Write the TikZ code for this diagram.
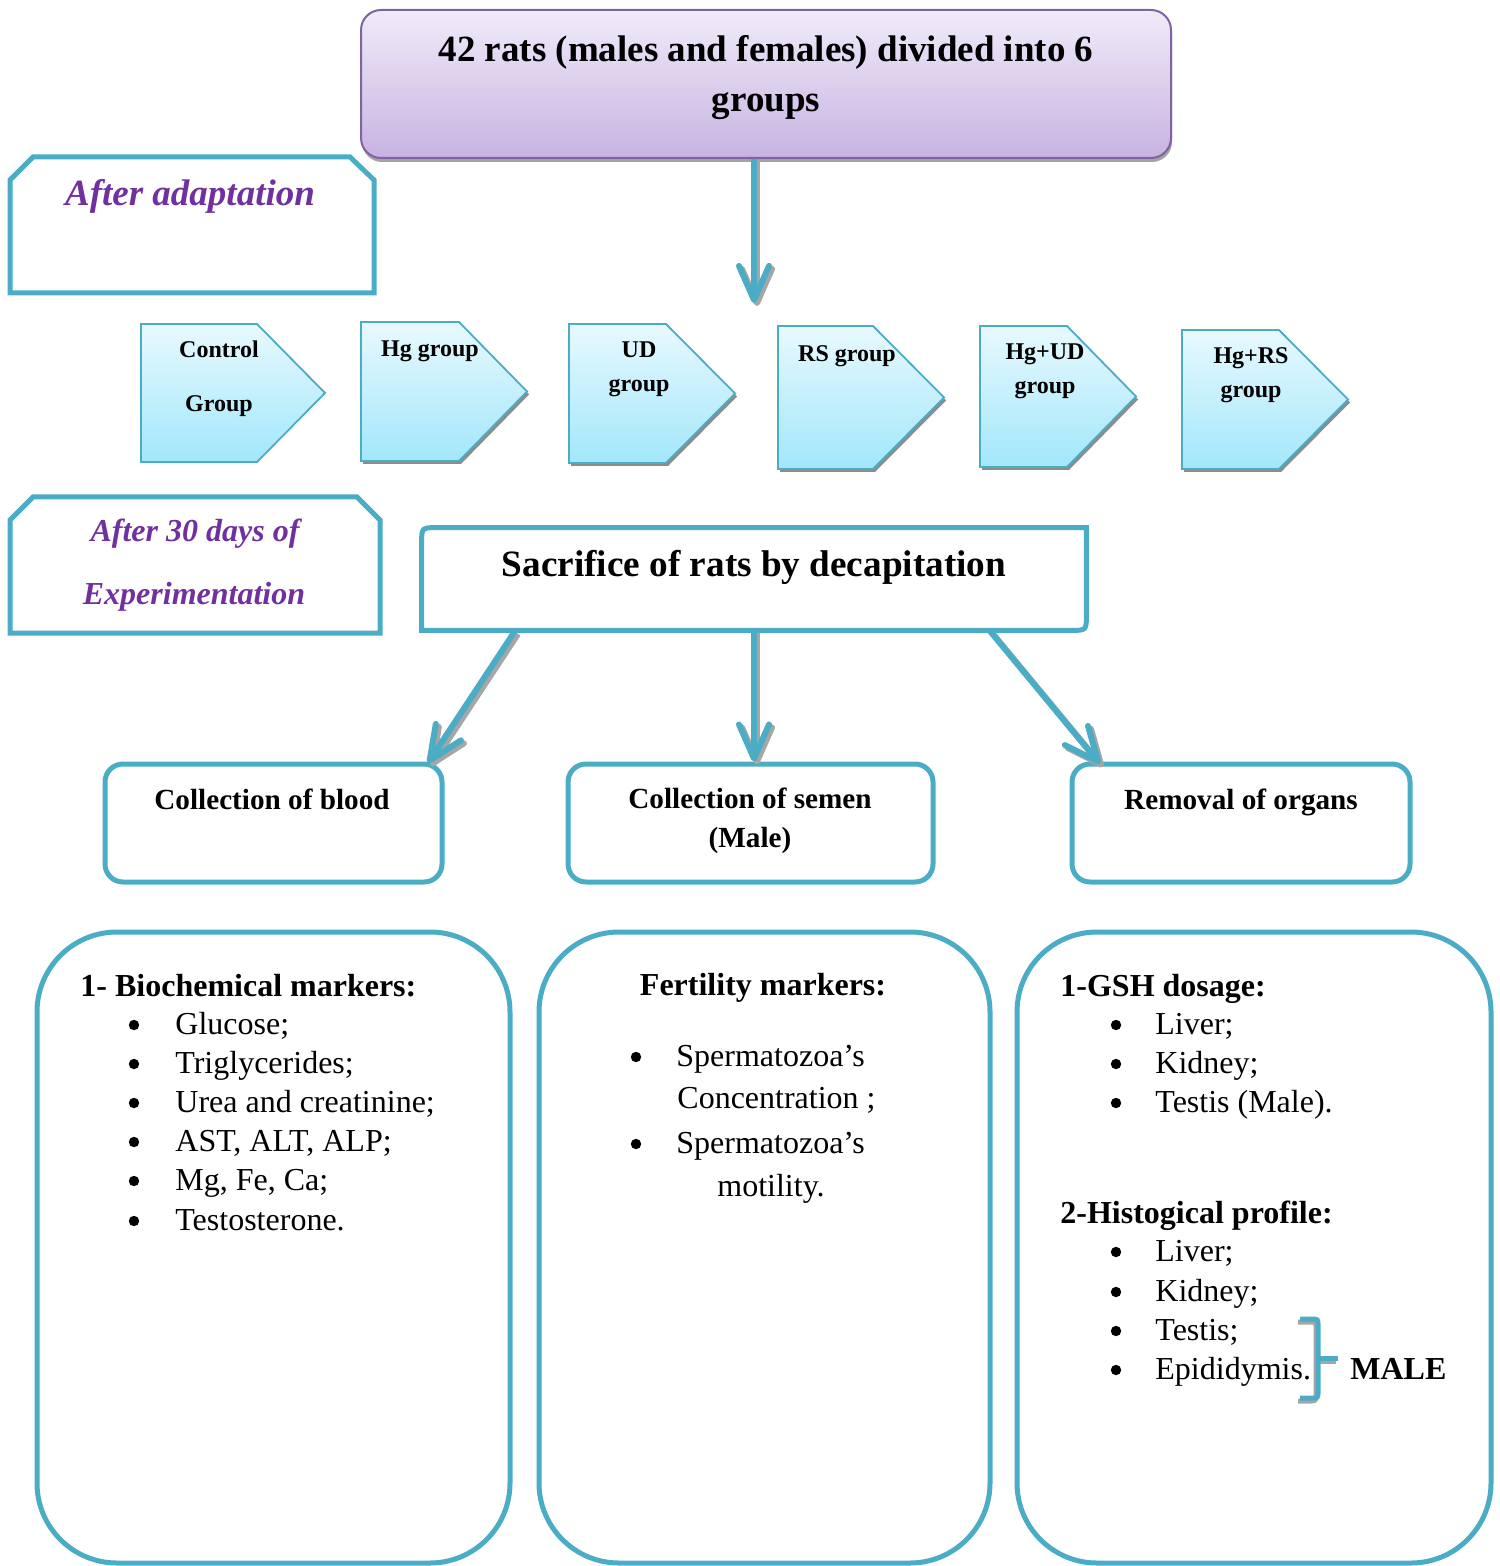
\documentclass[tikz,border=0pt]{standalone}
\usepackage{fontspec}
\setmainfont{Liberation Serif}
\usetikzlibrary{arrows.meta,shadows}
\definecolor{tealc}{HTML}{4BACC6}
\definecolor{purpt}{HTML}{7030A0}
\definecolor{purpb}{HTML}{8064A2}
\definecolor{purptop}{HTML}{F0EBF8}
\definecolor{purpbot}{HTML}{C7B3E2}
\definecolor{cyantop}{HTML}{E8F9FE}
\definecolor{cyanbot}{HTML}{A2E7FB}
\newcommand\pentshape[6][]{%
  \path[pent,#1] (#2,#3) -- (#6,#3) -- (#4,{(#3+#5)/2}) -- (#6,#5) -- (#2,#5) -- cycle;}
\begin{document}
\begin{tikzpicture}[x=0.5pt,y=-0.5pt,
  tealline/.style={draw=tealc,line width=2.5pt},
  arr/.style={draw=tealc,line width=3pt,-{Straight Barb[length=17pt,width=15pt,round]}},
  arrsh/.style={draw=black!35,line width=3pt,-{Straight Barb[length=17pt,width=15pt,round]},
     transform canvas={xshift=1.5pt,yshift=-1.5pt}},
  pent/.style={draw=tealc,line width=0.9pt,top color=cyantop,bottom color=cyanbot},
  psh/.style={drop shadow={shadow xshift=1pt,shadow yshift=-1.5pt,fill=black!45,opacity=1}},
  ptext/.style={font=\bfseries\fontsize{12}{14}\selectfont,inner sep=0pt,text height=8.5pt,text depth=2.4pt,yshift=-1pt},
  ital/.style={font=\bfseries\itshape\fontsize{16}{19}\selectfont,text=purpt,inner sep=0pt,text height=11.2pt,text depth=3.2pt,yshift=-1.5pt},
  box/.style={draw=tealc,line width=2.5pt,rounded corners=9pt,fill=white,inner sep=0pt},
  bigbox/.style={draw=tealc,line width=2.5pt,rounded corners=40pt,inner sep=0pt},
  ctext/.style={font=\bfseries\fontsize{14.6}{19.5}\selectfont,inner sep=0pt,text height=10.2pt,text depth=2.9pt,yshift=-1.5pt},
  body/.style={font=\fontsize{16}{19.5}\selectfont,anchor=west,inner sep=0pt,text height=11.2pt,text depth=3.2pt,yshift=-1.5pt},
  head/.style={body,font=\bfseries\fontsize{16}{19.5}\selectfont},
  bul/.style={circle,fill=black,inner sep=0pt,minimum size=5.2pt}
]
\useasboundingbox (0,0) rectangle (1499,1566);

% top box
\node[rectangle,rounded corners=10pt,draw=purpb,line width=1pt,top color=purptop,bottom color=purpbot,
  minimum width=405pt,minimum height=74pt,inner sep=0pt,
  drop shadow={shadow xshift=0.5pt,shadow yshift=-2pt,fill=black!40,opacity=0.9}] (top) at (766,84) {};
\node[font=\bfseries\fontsize{18.5}{25}\selectfont,align=center,inner sep=0pt] (toptext) at (766,78)
  {42 rats (males and females) divided into 6\\groups};

\coordinate (tarr) at (754,303);
\draw[arrsh] (tarr |- top.south) -- (tarr);
\draw[arr] (tarr |- top.south) -- (tarr);

% After adaptation
\draw[tealline] (10,180) -- (33,157) -- (350,157) -- (374,180) -- (374,293) -- (10,293) -- cycle;
\node[ital,font=\bfseries\itshape\fontsize{18.5}{22}\selectfont,text height=13pt,text depth=3.7pt] (adapt) at (190,193) {After adaptation};

% pentagons
\pentshape{141}{324}{325}{462}{257}
\pentshape[psh]{361}{322}{527}{461}{459}
\pentshape[psh]{569}{324}{735}{463}{666}
\pentshape[psh]{778}{326}{944}{469}{873}
\pentshape[psh]{980}{326}{1136}{467}{1067}
\pentshape[psh]{1182}{330}{1348}{469}{1279}
\node[ptext] (p1a) at (219,349) {Control};
\node[ptext] (p1b) at (219,403) {Group};
\node[ptext] (p2a) at (430,348) {Hg group};
\node[ptext] (p3a) at (639,349) {UD};
\node[ptext] (p3b) at (639,383) {group};
\node[ptext] (p4a) at (847,353) {RS group};
\node[ptext] (p5a) at (1045,351) {Hg+UD};
\node[ptext] (p5b) at (1045,385) {group};
\node[ptext] (p6a) at (1251,355) {Hg+RS};
\node[ptext] (p6b) at (1251,389) {group};

% After 30 days
\draw[tealline] (10,520) -- (33,497) -- (357,497) -- (380,520) -- (380,633) -- (10,633) -- cycle;
\node[ital] (d30a) at (195,530) {After 30 days of};
\node[ital] (d30b) at (194,593) {Experimentation};

% Sacrifice box
\node[minimum width=332pt,minimum height=51pt,inner sep=0pt] (sac) at (754,579) {};
\draw[tealline] (sac.south west) -- ([yshift=-8pt]sac.north west) .. controls (sac.north west) .. ([xshift=8pt]sac.north west)
  -- (sac.north east) -- ([yshift=8pt]sac.south east) .. controls (sac.south east) .. ([xshift=-8pt]sac.south east) -- cycle;
\node[font=\bfseries\fontsize{18.6}{22}\selectfont,inner sep=0pt,text height=13pt,text depth=3.7pt] (sactext) at (754,567)
  {Sacrifice of rats by decapitation};

% collection boxes
\node[box,minimum width=168.5pt,minimum height=59pt] (blood) at (273.5,823) {};
\node[box,minimum width=182.5pt,minimum height=59pt] (semen) at (750.5,823) {};
\node[box,minimum width=169pt,minimum height=59pt] (organs) at (1241,823) {};
\node[ctext] (bloodt) at (272,799) {Collection of blood};
\node[ctext] (sement) at (750,798) {Collection of semen};
\node[ctext] (sement2) at (750,837) {(Male)};
\node[ctext] (organt) at (1241,799) {Removal of organs};

% arrows from sacrifice
\coordinate (ls) at (515,631);
\coordinate (rs) at (990,631);
\coordinate (le) at (428,763);
\coordinate (re) at (1100,764);
\draw[arrsh] (ls) -- (le);
\draw[arrsh] (sac.south) -- (sac.south |- semen.north);
\draw[arrsh] (rs) -- (re);
\draw[arr] (ls) -- (le);
\draw[arr] (sac.south) -- (sac.south |- semen.north);
\draw[arr] (rs) -- (re);

% big boxes
\node[bigbox,minimum width=236.5pt,minimum height=315.5pt] (b1) at (273.5,1247.5) {};
\node[bigbox,minimum width=225.5pt,minimum height=315.5pt] (b2) at (764.5,1247.5) {};
\node[bigbox,minimum width=237pt,minimum height=315.5pt] (b3) at (1254,1247.5) {};

% left list
\node[head] (h1) at (80,985) {1- Biochemical markers:};
\foreach \t/\y [count=\i] in {Glucose;/1023, Triglycerides;/1062, Urea and creatinine;/1101, {AST, ALT, ALP;}/1140, {Mg, Fe, Ca;}/1179, Testosterone./1219}{
  \node[bul] (lb\i) at (134,\y+2) {};
  \node[body] (lt\i) at (175,\y) {\t};
}

% middle list
\node[head,anchor=center] (h2) at (763,984) {Fertility markers:};
\node[bul] (mb1) at (636,1057) {};
\node[body] (mt1) at (676,1055) {Spermatozoa’s};
\node[body] (mt2) at (677,1097) {Concentration ;};
\node[bul] (mb2) at (636,1144) {};
\node[body] (mt3) at (676,1142) {Spermatozoa’s};
\node[body] (mt4) at (717,1185) {motility.};

% right list
\node[head] (h3) at (1060,985) {1-GSH dosage:};
\foreach \t/\y [count=\i] in {Liver;/1023, Kidney;/1062, Testis (Male)./1101}{
  \node[bul] (rb\i) at (1116,\y+2) {};
  \node[body] (rt\i) at (1155,\y) {\t};
}
\node[head] (h4) at (1060,1212) {2-Histogical profile:};
\foreach \t/\y [count=\i] in {Liver;/1250, Kidney;/1290, Testis;/1329, Epididymis./1368}{
  \node[bul] (sb\i) at (1116,\y+2) {};
  \node[body] (st\i) at (1155,\y) {\t};
}
% bracket
\begin{scope}[transform canvas={xshift=-1pt,yshift=-1.5pt}]
\draw[black!35,line width=2.5pt] (1300,1319) -- (1311,1319) .. controls (1318,1319) .. (1318,1326) -- (1318,1391)
  .. controls (1318,1398) .. (1311,1398) -- (1300,1398);
\draw[black!35,line width=2.5pt] (1318,1358) -- (1338,1358);
\end{scope}
\draw[tealc,line width=2.5pt] (1300,1319) -- (1311,1319) .. controls (1318,1319) .. (1318,1326) -- (1318,1391)
  .. controls (1318,1398) .. (1311,1398) -- (1300,1398);
\draw[tealc,line width=2.5pt] (1318,1358) -- (1338,1358);
\node[head] (male) at (1350,1368) {MALE};
\end{tikzpicture}
\end{document}
